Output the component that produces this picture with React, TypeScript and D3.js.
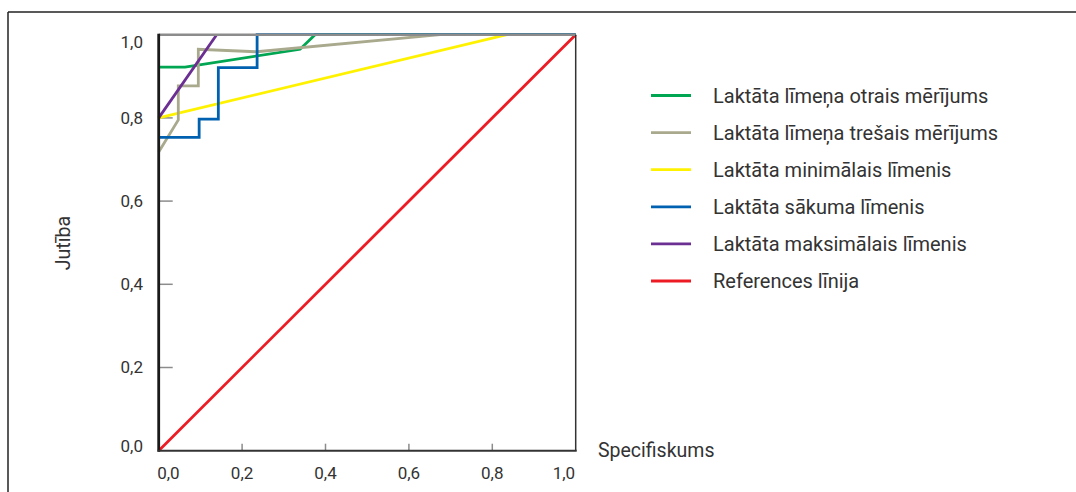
import React from "react";
import * as d3 from "d3";

const W = 1076;
const H = 492;

const xTicks = [0, 0.2, 0.4, 0.6, 0.8, 1.0];
const yTicks = [0, 0.2, 0.4, 0.6, 0.8, 1.0];
const xTickLabels = ["0,0", "0,2", "0,4", "0,6", "0,8", "1,0"];
const yTickLabels = ["0,0", "0,2", "0,4", "0,6", "0,8", "1,0"];

const seriesNames = [
  "Laktāta līmeņa otrais mērījums",
  "Laktāta līmeņa trešais mērījums",
  "Laktāta minimālais līmenis",
  "Laktāta sākuma līmenis",
  "Laktāta maksimālais līmenis",
  "References līnija",
];
const seriesColors = ["#00a651", "#a9a98d", "#fff200", "#0061b0", "#6b2e92", "#ed1c24"];

// false positive rate (x) and sensitivity (y) for each curve
const greenX = [0, 0.063, 0.339, 0.375, 1.0];
const greenY = [0.922, 0.922, 0.965, 1.0, 1.0];
const grayX = [0, 0.047, 0.047, 0.095, 0.095, 0.235, 0.675, 1.0];
const grayY = [0.718, 0.795, 0.877, 0.877, 0.965, 0.959, 1.0, 1.0];
const yellowX = [0, 0.835, 1.0];
const yellowY = [0.8, 1.0, 1.0];
const blueX = [0, 0.097, 0.097, 0.143, 0.143, 0.236, 0.236, 1.0];
const blueY = [0.753, 0.753, 0.797, 0.797, 0.921, 0.921, 1.0, 1.0];
const purpleX = [0, 0.139];
const purpleY = [0.8, 1.0];
const refX = [0, 1];
const refY = [0, 1];

const xAxisTitle = "Specifiskums";
const yAxisTitle = "Jutība";

const FONT = "Roboto, 'Noto Sans', sans-serif";

export default function App() {
  const left = 158.7, right = 575.7, top = 34.7, bottom = 450.7;
  const x = d3.scaleLinear().domain([0, 1]).range([left, right]);
  const y = d3.scaleLinear().domain([0, 1]).range([bottom, top]);
  const line = d3
    .line<[number, number]>()
    .x((d) => x(d[0]))
    .y((d) => y(d[1]));
  const mk = (xs: number[], ys: number[]) => xs.map((v, i) => [v, ys[i]] as [number, number]);

  // draw order: reference, yellow, green, gray, purple, blue
  const curves = [
    { d: mk(refX, refY), c: seriesColors[5] },
    { d: mk(yellowX, yellowY), c: seriesColors[2] },
    { d: mk(greenX, greenY), c: seriesColors[0] },
    { d: mk(grayX, grayY), c: seriesColors[1] },
    { d: mk(purpleX, purpleY), c: seriesColors[4] },
    { d: mk(blueX, blueY), c: seriesColors[3] },
  ];

  const legendX1 = 651, legendX2 = 691, legendText = 713;
  const legendY0 = 95.5, legendStep = 37.1;

  return (
    <svg
      width={W}
      height={H}
      style={{ position: "fixed", left: 0, top: 0, background: "#fff" }}
      fontFamily={FONT}
    >
      <rect x={0} y={0} width={W} height={H} fill="#fff" />
      {/* outer frame */}
      <line x1={8} y1={12} x2={W} y2={12} stroke="#222" strokeWidth={1.5} />
      <line x1={8} y1={12} x2={8} y2={H} stroke="#222" strokeWidth={1.5} />

      {/* y ticks */}
      {yTicks.slice(1, -1).map((t) => (
        <line key={"yt" + t} x1={left} x2={left + 14} y1={y(t)} y2={y(t)} stroke="#8c8c8c" strokeWidth={1.5} />
      ))}
      {/* x ticks */}
      {xTicks.slice(1, -1).map((t) => (
        <line key={"xt" + t} x1={x(t)} x2={x(t)} y1={bottom} y2={bottom - 7} stroke="#8c8c8c" strokeWidth={1.5} />
      ))}

      {/* curves */}
      {curves.map((c, i) => (
        <path key={i} d={line(c.d) || ""} fill="none" stroke={c.c} strokeWidth={2.8} strokeLinejoin="miter" />
      ))}

      {/* plot frame */}
      <line x1={left} y1={top} x2={right} y2={top} stroke="#8c8c8c" strokeWidth={2.5} />
      <line x1={right} y1={top} x2={right} y2={bottom} stroke="#333" strokeWidth={1.5} />

      {/* axes */}
      <line x1={left} y1={top - 1} x2={left} y2={bottom + 1} stroke="#1a1a1a" strokeWidth={2.8} />
      <line x1={left - 1} y1={bottom} x2={right + 1} y2={bottom} stroke="#333" strokeWidth={2} />

      {/* y tick labels */}
      {yTicks.map((t, i) => {
        let cy = y(t);
        if (i === 0) cy = 446;
        if (i === yTicks.length - 1) cy = 42;
        return (
          <text key={"yl" + t} x={143} y={cy} dy="0.35em" textAnchor="end" fontSize={17} fill="#333">
            {yTickLabels[i]}
          </text>
        );
      })}
      {/* x tick labels */}
      {xTicks.map((t, i) => {
        let anchor = "middle";
        let px = x(t);
        if (i === 0) { anchor = "start"; px = x(t) - 1.5; }
        if (i === xTicks.length - 1) { anchor = "end"; px = x(t) - 0.5; }
        return (
          <text key={"xl" + t} x={px} y={473} dy="0.35em" textAnchor={anchor} fontSize={17} fill="#333">
            {xTickLabels[i]}
          </text>
        );
      })}

      {/* axis titles */}
      <text x={598} y={450} dy="0.35em" fontSize={19.5} fill="#333">{xAxisTitle}</text>
      <text
        transform={`translate(63,${243}) rotate(-90)`}
        textAnchor="middle"
        dy="0.35em"
        fontSize={19.5}
        fill="#333"
      >
        {yAxisTitle}
      </text>

      {/* legend */}
      {seriesNames.map((n, i) => {
        const ly = legendY0 + i * legendStep;
        return (
          <g key={n}>
            <line x1={legendX1} x2={legendX2} y1={ly} y2={ly} stroke={seriesColors[i]} strokeWidth={2.8} />
            <text x={legendText} y={ly} dy="0.35em" fontSize={20} fill="#333">{n}</text>
          </g>
        );
      })}
    </svg>
  );
}
